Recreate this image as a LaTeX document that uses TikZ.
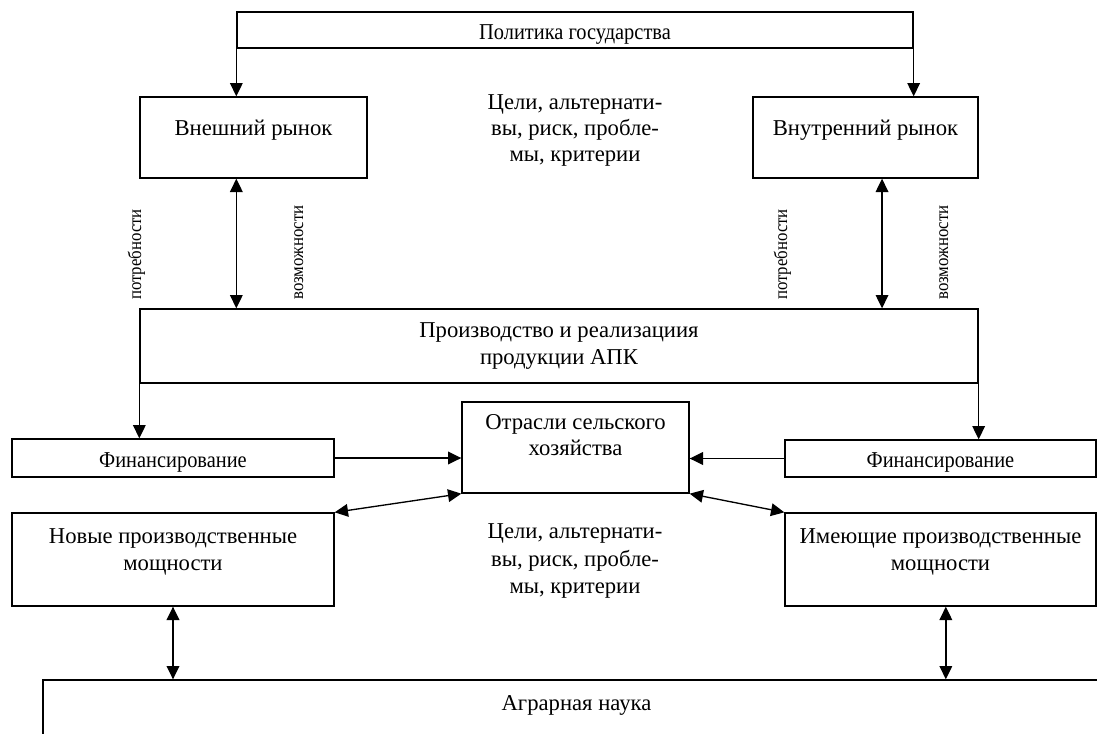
\documentclass[tikz,border=0pt]{standalone}
\usepackage{fontspec}
\setmainfont{Liberation Serif}
\newfontfamily\narrowfont[FakeStretch=0.9]{Liberation Serif}
\usetikzlibrary{arrows.meta}

\begin{document}
\begin{tikzpicture}[
  x=0.75pt, y=-0.75pt,
  font=\fontsize{17}{20}\selectfont,
  box/.style 2 args={draw, line width=1pt, align=center, inner sep=0pt, fill=white,
    minimum width=#1*0.75pt, minimum height=#2*0.75pt},
  narrow/.style={font=\narrowfont\fontsize{17}{19}\selectfont, text height=17.5pt},
  goal/.style={align=center, font=\fontsize{17}{19.5}\selectfont},
  side/.style={rotate=90, anchor=base west, inner sep=0pt, font=\narrowfont\fontsize{14}{16}\selectfont},
  arrow/.style={-{Triangle[length=10pt, width=9.5pt]}, line width=1pt},
  dbl/.style={{Triangle[length=10pt, width=9.5pt]}-{Triangle[length=10pt, width=9.5pt]}, line width=1pt}
]

\path[use as bounding box, clip] (0,0) rectangle (1097,733);

\node[box={676}{36}, narrow] (gov) at (575,30) {Политика государства};

\node[box={227}{81}, text depth=15pt] (ext) at (253.5,137.5) {Внешний рынок};
\node[box={225}{81}, text depth=15pt] (int) at (865.5,137.5) {Внутренний рынок};
\node[goal] (goalsT) at (575,130) {Цели, альтернати-\\вы, риск, пробле-\\мы, критерии};

\node[side] (needL) at (141,300) {потребности};
\node[side] (oppL) at (303,300) {возможности};
\node[side] (needR) at (787,300) {потребности};
\node[side] (oppR) at (948,300) {возможности};

\node[box={838}{74}] (prod) at (559,346) {Производство и реализациия\\продукции АПК};

\node[box={322}{38}, narrow] (finL) at (173,458) {Финансирование};
\node[box={311}{37}, narrow] (finR) at (940.5,458.5) {Финансирование};
\node[box={227}{91}, text depth=19pt] (branch) at (575.5,447.5) {Отрасли сельского\\хозяйства};

\node[box={322}{93}, text depth=15pt] (newcap) at (173,559.5) {Новые производственные\\мощности};
\node[box={311}{93}, text depth=15pt] (oldcap) at (940.5,559.5) {Имеющие производственные\\мощности};
\node[goal, font=\fontsize{17}{20.5}\selectfont] (goalsB) at (575,561) {Цели, альтернати-\\вы, риск, пробле-\\мы, критерии};

\node[box={1067}{65}, text depth=14pt] (sci) at (576.5,712.5) {Аграрная наука};

\draw[arrow] (gov.south west) -- (gov.south west |- ext.north);
\draw[arrow] (gov.south east) -- (gov.south east |- int.north);
\draw[dbl] (gov.south west |- ext.south) -- (gov.south west |- prod.north);
\draw[dbl] ([xshift=12.4pt]int.south) -- ([xshift=12.4pt]int.south |- prod.north);
\draw[arrow] (prod.south west) -- (prod.south west |- finL.north);
\draw[arrow] (prod.south east) -- (prod.south east |- finR.north);
\draw[arrow] (finL.east) -- (finL.east -| branch.west);
\draw[arrow] (finR.west) -- (finR.west -| branch.east);
\draw[dbl] (branch.south west) -- (newcap.north east);
\draw[dbl] (branch.south east) -- (oldcap.north west);
\draw[dbl] (newcap.south) -- (newcap.south |- sci.north);
\draw[dbl] ([xshift=4pt]oldcap.south) -- ([xshift=4pt]oldcap.south |- sci.north);

\end{tikzpicture}
\end{document}
